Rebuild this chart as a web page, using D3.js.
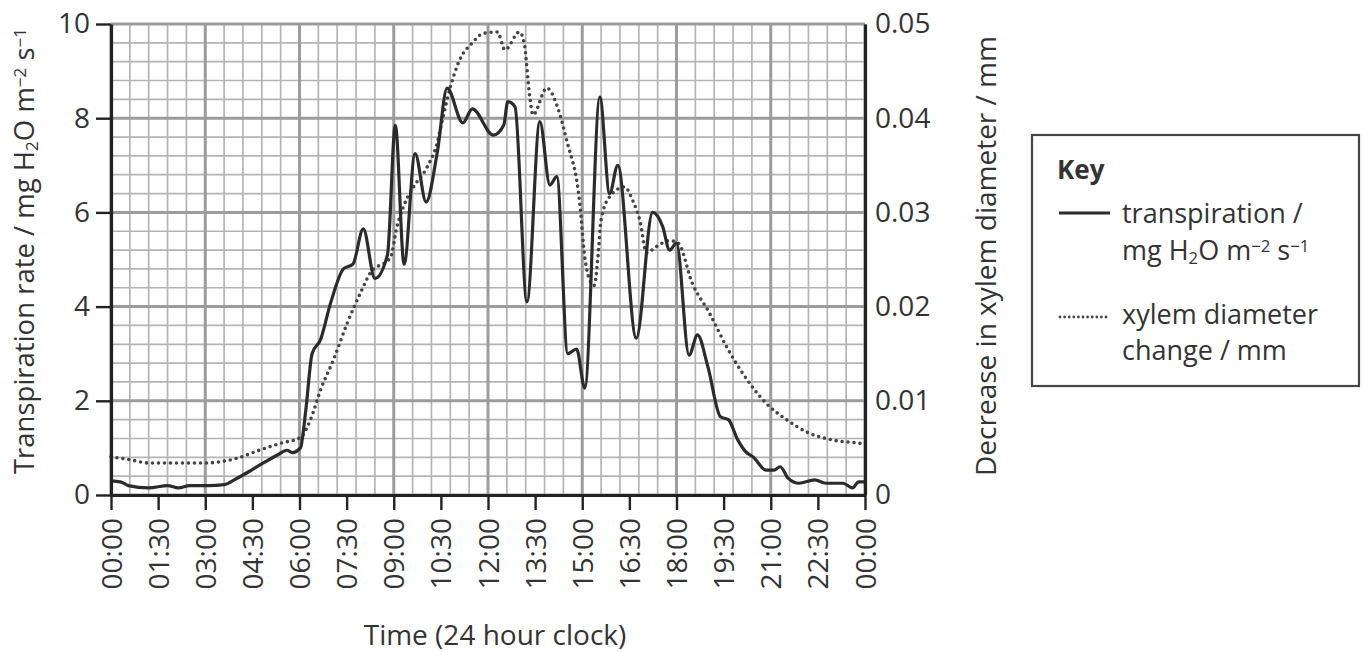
<!DOCTYPE html>
<html>
<head>
<meta charset="utf-8">
<script src="https://cdn.jsdelivr.net/npm/d3@7"></script>
<style>
  body { margin: 0; background: #fff; }
  svg { display: block; font-family: "Open Sans", sans-serif; }
</style>
</head>
<body>
<svg id="chart" width="1363" height="652"></svg>
<script>
// transpiration rate, mg H2O m-2 s-1, against time of day in hours
const transpTime = [0, 0.3, 0.55, 1.2, 1.8, 2.15, 2.5, 3.1, 3.6, 4.0, 4.45, 4.85, 5.3, 5.6, 5.77, 6.03,
  6.2, 6.4, 6.67, 7.0, 7.4, 7.7, 8.03, 8.4, 8.8, 9.05, 9.33, 9.68, 10.03, 10.38, 10.7, 11.2, 11.5,
  12.17, 12.5, 12.63, 12.86, 13.24, 13.65, 13.97, 14.19, 14.54, 14.82, 15.08, 15.56, 15.87, 16.13,
  16.72, 17.24, 17.56, 17.78, 18.0, 18.4, 18.67, 19.0, 19.4, 19.65, 19.95, 20.2, 20.45, 20.85, 21.1,
  21.3, 21.55, 21.9, 22.4, 22.75, 23.3, 23.6, 23.8, 24];
const transpRate = [0.3, 0.28, 0.2, 0.15, 0.2, 0.15, 0.2, 0.2, 0.22, 0.35, 0.52, 0.68, 0.85, 0.95, 0.9, 1.0,
  1.8, 3.0, 3.3, 4.1, 4.8, 4.9, 5.65, 4.6, 5.1, 7.85, 4.9, 7.25, 6.22, 7.25, 8.64, 7.9, 8.2,
  7.64, 7.85, 8.35, 8.24, 4.1, 7.93, 6.58, 6.76, 3.0, 3.1, 2.27, 8.45, 6.4, 7.0,
  3.33, 6.0, 5.7, 5.2, 5.35, 2.97, 3.4, 2.72, 1.66, 1.6, 1.17, 0.92, 0.8, 0.53, 0.53,
  0.6, 0.36, 0.25, 0.32, 0.25, 0.25, 0.15, 0.28, 0.28];

// decrease in xylem diameter, mm
const xylemTime = [0, 0.6, 1.2, 2.0, 2.95, 3.9, 4.76, 5.4, 6.03, 6.35, 6.67, 7.08, 7.52, 7.94, 8.25, 8.9,
  9.1, 9.3, 9.63, 10.06, 10.38, 10.57, 10.8, 11.1, 11.5, 11.85, 12.3, 12.54, 13.0, 13.15, 13.33, 13.43,
  13.87, 14.22, 14.5, 14.92, 15.08, 15.24, 15.38, 15.5, 15.6, 15.87, 16.35, 16.6, 16.83, 17.05, 17.35,
  17.78, 18.05, 18.5, 19.05, 19.6, 20.1, 20.85, 21.5, 22.2, 22.95, 23.8, 24];
const xylemDecrease = [0.00405, 0.00375, 0.0034, 0.0034, 0.0034, 0.0038, 0.0048, 0.0055, 0.0061, 0.008,
  0.01115, 0.01435, 0.01825, 0.02145, 0.02355, 0.02525,
  0.02845, 0.03055, 0.0327, 0.0348, 0.03735, 0.04015, 0.0433, 0.0462, 0.048, 0.049, 0.04915, 0.04725,
  0.04915, 0.048, 0.04225, 0.04035,
  0.0432, 0.0411, 0.0377, 0.031, 0.02525, 0.0228, 0.02225, 0.02525, 0.0292, 0.03165, 0.0327, 0.0313,
  0.0292, 0.0257, 0.02635,
  0.027, 0.02675, 0.0225, 0.0193, 0.0157, 0.01295, 0.00975, 0.008, 0.0066, 0.00585, 0.0055, 0.0054];

const timeTicks = d3.range(0, 24.01, 1.5);
const timeLabels = ["00:00", "01:30", "03:00", "04:30", "06:00", "07:30", "09:00", "10:30", "12:00",
  "13:30", "15:00", "16:30", "18:00", "19:30", "21:00", "22:30", "00:00"];
const rateTicks = [0, 2, 4, 6, 8, 10];
const xylemTicks = [0, 0.01, 0.02, 0.03, 0.04, 0.05];

const svg = d3.select("#chart");
const ink = "#333";

const x = d3.scaleLinear().domain([0, 24]).range([111, 865]);
const y = d3.scaleLinear().domain([0, 10]).range([495, 24]);
const y2 = d3.scaleLinear().domain([0, 0.05]).range([495, 24]);

// graph paper
const grid = svg.append("g");
grid.selectAll(".vmin")
  .data(d3.range(0, 24.001, 0.6))
  .enter().append("line")
  .attr("x1", d => x(d)).attr("x2", d => x(d))
  .attr("y1", y(10)).attr("y2", y(0))
  .attr("stroke", "#b4b4b4").attr("stroke-width", 1.7);
grid.selectAll(".hmin")
  .data(d3.range(0, 10.001, 0.4))
  .enter().append("line")
  .attr("y1", d => y(d)).attr("y2", d => y(d))
  .attr("x1", x(0)).attr("x2", x(24))
  .attr("stroke", "#b4b4b4").attr("stroke-width", 1.7);
grid.selectAll(".vmaj")
  .data(d3.range(0, 24.001, 3))
  .enter().append("line")
  .attr("x1", d => x(d)).attr("x2", d => x(d))
  .attr("y1", y(10)).attr("y2", y(0))
  .attr("stroke", "#9c9c9c").attr("stroke-width", 3);
grid.selectAll(".hmaj")
  .data(d3.range(0, 10.001, 2))
  .enter().append("line")
  .attr("y1", d => y(d)).attr("y2", d => y(d))
  .attr("x1", x(0)).attr("x2", x(24))
  .attr("stroke", "#9c9c9c").attr("stroke-width", 3);

// curves
const xylemLine = d3.line()
  .x((d, i) => x(xylemTime[i]))
  .y(d => y2(d))
  .curve(d3.curveMonotoneX);
svg.append("path")
  .datum(xylemDecrease)
  .attr("d", xylemLine)
  .attr("fill", "none")
  .attr("stroke", "#444")
  .attr("stroke-width", 3.6)
  .attr("stroke-linecap", "round")
  .attr("stroke-dasharray", "0 6");

const transpLine = d3.line()
  .x((d, i) => x(transpTime[i]))
  .y(d => y(d))
  .curve(d3.curveMonotoneX);
svg.append("path")
  .datum(transpRate)
  .attr("d", transpLine)
  .attr("fill", "none")
  .attr("stroke", "#2b2b2b")
  .attr("stroke-width", 3.2)
  .attr("stroke-linejoin", "round");

// axes
const tickFont = 28;

const left = svg.append("g")
  .attr("transform", `translate(${x(0)},0)`)
  .call(d3.axisLeft(y).tickValues(rateTicks).tickSize(15).tickSizeOuter(0).tickPadding(6));

const right = svg.append("g")
  .attr("transform", `translate(${x(24)},0)`)
  .call(d3.axisRight(y2).tickValues(xylemTicks).tickSize(0).tickSizeOuter(0).tickPadding(10)
    .tickFormat(d => d === 0 ? "0" : d.toFixed(2)));

const bottom = svg.append("g")
  .attr("transform", `translate(0,${y(0)})`)
  .call(d3.axisBottom(x).tickValues(timeTicks).tickSize(15).tickSizeOuter(0)
    .tickFormat((d, i) => timeLabels[i]));

bottom.selectAll("text")
  .attr("transform", "rotate(-90)")
  .attr("x", -23)
  .attr("y", 0)
  .attr("dy", "0.36em")
  .style("text-anchor", "end");

[left, right, bottom].forEach(g => {
  g.selectAll(".domain").attr("stroke", "#222").attr("stroke-width", 3.2);
  g.selectAll(".tick line").attr("stroke", "#222").attr("stroke-width", 2.4);
  g.selectAll("text").attr("fill", ink).style("font-size", tickFont + "px")
    .style("font-family", "'Open Sans', sans-serif");
});

// axis titles
const sub = (t, s) => t.append("tspan").attr("baseline-shift", "-25%").style("font-size", "0.62em").text(s);
const sup = (t, s) => t.append("tspan").attr("baseline-shift", "45%").style("font-size", "0.62em").text(s);
const plain = (t, s) => t.append("tspan").text(s);

const yTitle = svg.append("text")
  .attr("transform", "translate(34,251) rotate(-90)")
  .attr("text-anchor", "middle")
  .attr("fill", ink)
  .style("font-size", "27.5px");
plain(yTitle, "Transpiration rate / mg H");
sub(yTitle, "2");
plain(yTitle, "O m");
sup(yTitle, "\u22122");
plain(yTitle, " s");
sup(yTitle, "\u22121");

svg.append("text")
  .attr("transform", "translate(996,256) rotate(-90)")
  .attr("text-anchor", "middle")
  .attr("fill", ink)
  .style("font-size", "28px")
  .text("Decrease in xylem diameter / mm");

svg.append("text")
  .attr("x", 495).attr("y", 645)
  .attr("text-anchor", "middle")
  .attr("fill", ink)
  .style("font-size", "28px")
  .text("Time (24 hour clock)");

// key
const key = svg.append("g");
key.append("rect")
  .attr("x", 1032).attr("y", 135).attr("width", 327).attr("height", 251)
  .attr("fill", "#fff").attr("stroke", "#444").attr("stroke-width", 2.2);
key.append("text")
  .attr("x", 1057).attr("y", 179)
  .attr("fill", ink).style("font-size", "26px").style("font-weight", "bold")
  .text("Key");
key.append("line")
  .attr("x1", 1059).attr("x2", 1110).attr("y1", 213).attr("y2", 213)
  .attr("stroke", "#2b2b2b").attr("stroke-width", 3);
key.append("line")
  .attr("x1", 1060).attr("x2", 1108).attr("y1", 317).attr("y2", 317)
  .attr("stroke", "#444").attr("stroke-width", 2.8)
  .attr("stroke-linecap", "round").attr("stroke-dasharray", "0 4.6");

const keyText = (yy) => key.append("text").attr("x", 1122).attr("y", yy)
  .attr("fill", ink).style("font-size", "27px");
keyText(223).text("transpiration /");
const k2 = keyText(260);
plain(k2, "mg H");
sub(k2, "2");
plain(k2, "O m");
sup(k2, "\u22122");
plain(k2, " s");
sup(k2, "\u22121");
keyText(324).text("xylem diameter");
keyText(360).text("change / mm");
</script>
</body>
</html>
